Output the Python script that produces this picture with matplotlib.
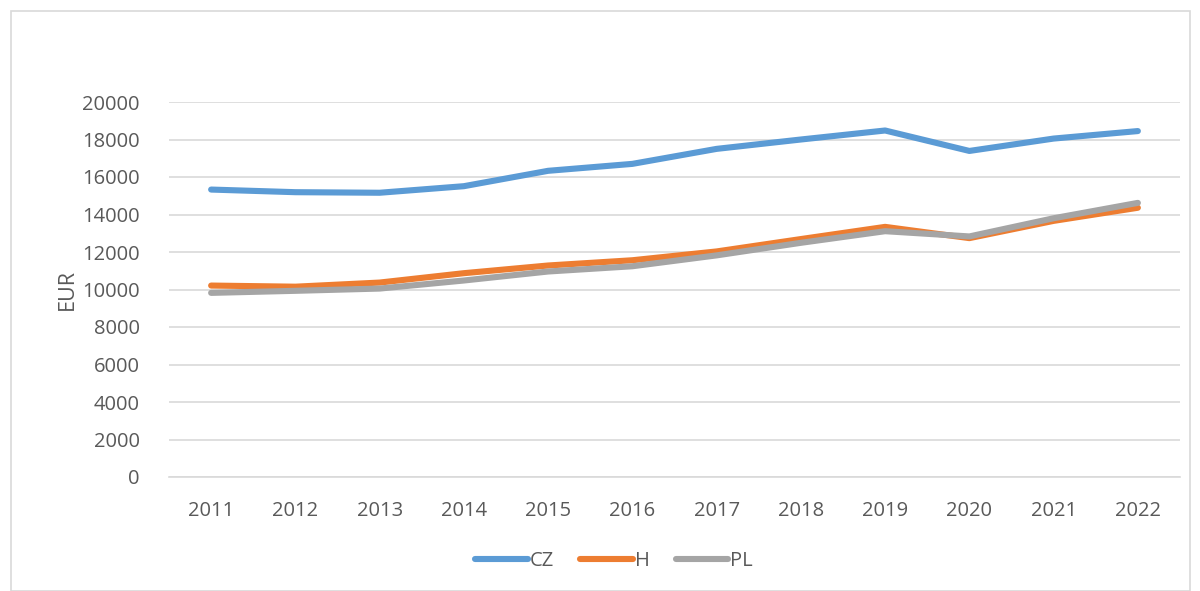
import numpy as np
import matplotlib.pyplot as plt
from matplotlib.patches import Rectangle

# dane
years = ['2011', '2012', '2013', '2014', '2015', '2016', '2017', '2018', '2019', '2020', '2021', '2022']
cz = [15330, 15190, 15160, 15510, 16330, 16700, 17500, 18000, 18480, 17390, 18050, 18450]
h = [10210, 10150, 10370, 10870, 11280, 11560, 12030, 12690, 13340, 12740, 13660, 14360]
pl = [9820, 9930, 10050, 10480, 10960, 11240, 11820, 12490, 13110, 12830, 13800, 14620]

series = [('CZ', cz, '#5B9BD5'), ('H', h, '#ED7D31'), ('PL', pl, '#A5A5A5')]
txt = '#595959'

plt.rcParams['font.family'] = ['Open Sans', 'DejaVu Sans']

fig = plt.figure(figsize=(12, 5.91), dpi=100)
# ramka wykresu
fig.patches.append(Rectangle((11/1200, 0), 1179/1200, 580/591, transform=fig.transFigure,
                             fill=False, edgecolor='#D9D9D9', linewidth=1.2))

ax = fig.add_axes([169/1200, (591-477)/591, (1180-169)/1200, (477-102)/591])
x = np.arange(len(years))
for nome, vals, cor in series:
    ax.plot(x, vals, color=cor, linewidth=4.4, solid_capstyle='round', label=nome)

ax.set_xlim(-0.5, len(years) - 0.5)
ax.set_ylim(0, 20000)
ax.set_yticks(np.arange(0, 20001, 2000))
ax.set_xticks(x)
ax.set_xticklabels(years)
ax.yaxis.grid(True, color='#D9D9D9', linewidth=1.2)
ax.set_axisbelow(True)
for s in ['top', 'right', 'left']:
    ax.spines[s].set_visible(False)
ax.spines['bottom'].set_color('#D9D9D9')
ax.spines['bottom'].set_linewidth(1.2)
ax.tick_params(axis='both', length=0, labelsize=14.5, colors=txt)
ax.tick_params(axis='y', pad=21)
ax.tick_params(axis='x', pad=17)
ax.set_ylabel('EUR', fontsize=15.5, color=txt, labelpad=3)

fig.legend(loc='center', bbox_to_anchor=(614/1200, 1 - 561/591), ncol=3, frameon=False,
           fontsize=14.5, labelcolor=txt, handlelength=2.6, handletextpad=0.1, columnspacing=1.3)

plt.savefig('out.png', dpi=100)
